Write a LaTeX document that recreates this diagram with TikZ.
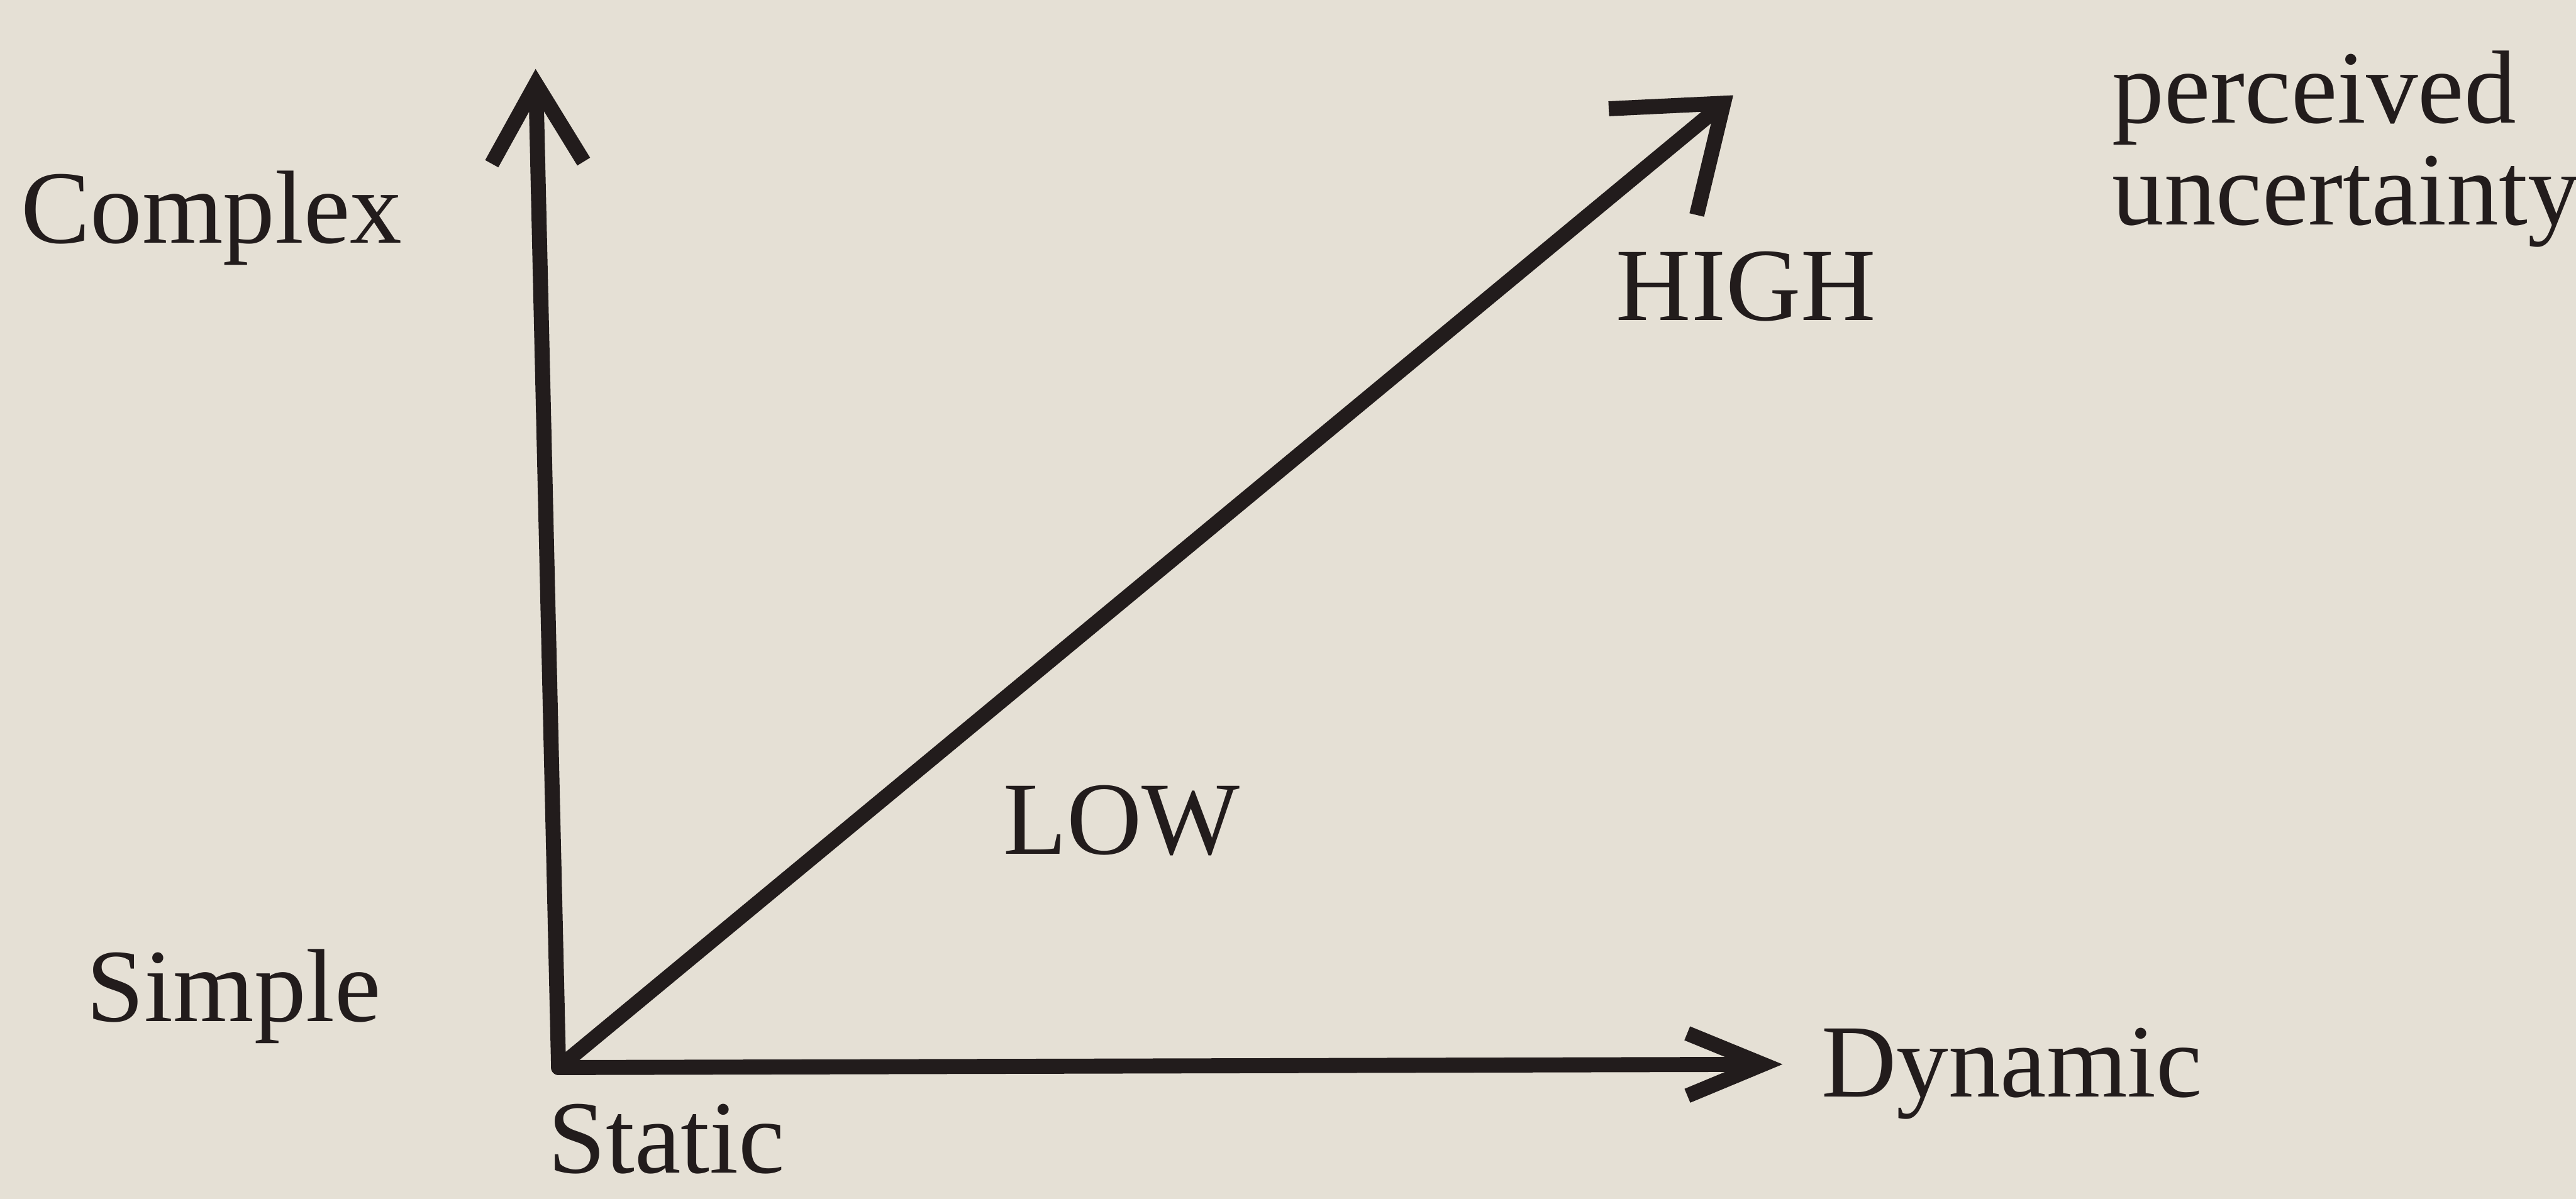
\documentclass[tikz,border=0pt]{standalone}
\usepackage{fontspec}
\setmainfont{Liberation Serif}
\usepackage{xcolor}
\usepackage{tikz}
\usetikzlibrary{arrows.meta, positioning}

\definecolor{paper}{RGB}{229,224,213}
\definecolor{ink}{RGB}{34,28,28}

\tikzset{
    axis/.style={line width=2.6pt, draw=ink, line cap=round, line join=round},
    lbl/.style={text=ink, inner sep=0pt, anchor=base west,
        font=\fontsize{18}{22}\selectfont}
}

\begin{document}
\begin{tikzpicture}
        \fill[paper] (0,0) rectangle (15.68,7.30);
        \useasboundingbox (0,0) rectangle (15.68,7.30);

        \coordinate (O) at (3.40, 0.80);
        \coordinate (ytip) at (3.26, 6.88);
        \coordinate (xtip) at (10.85, 0.82);
        \coordinate (dtip) at (10.55, 6.72);

        \draw[axis, -{Straight Barb[length=4.8mm, width=5.6mm]}] (O) -- (ytip);
        \draw[axis, -{Straight Barb[length=4.6mm, width=3.8mm]}] (O) -- (xtip);
        \draw[axis, -{Straight Barb[length=5.6mm, width=8.4mm]}] (O) -- (dtip);

        \node[lbl] (complex) at (0.12, 5.82) {Complex};
        \node[lbl] (simple) at (0.52, 1.08) {Simple};
        \node[lbl] (static) at (3.33, 0.16) {Static};
        \node[lbl] (dynamic) at (11.08, 0.62) {Dynamic};

        \node[lbl] (low) at (6.10, 2.10) {LOW};
        \node[lbl] (high) at (9.83, 5.35) {HIGH};

        \node[lbl] (perc) at (12.85, 6.55) {perceived};
        \node[lbl] (unc) at (12.85, 5.93) {uncertainty};
    \end{tikzpicture}
\end{document}
